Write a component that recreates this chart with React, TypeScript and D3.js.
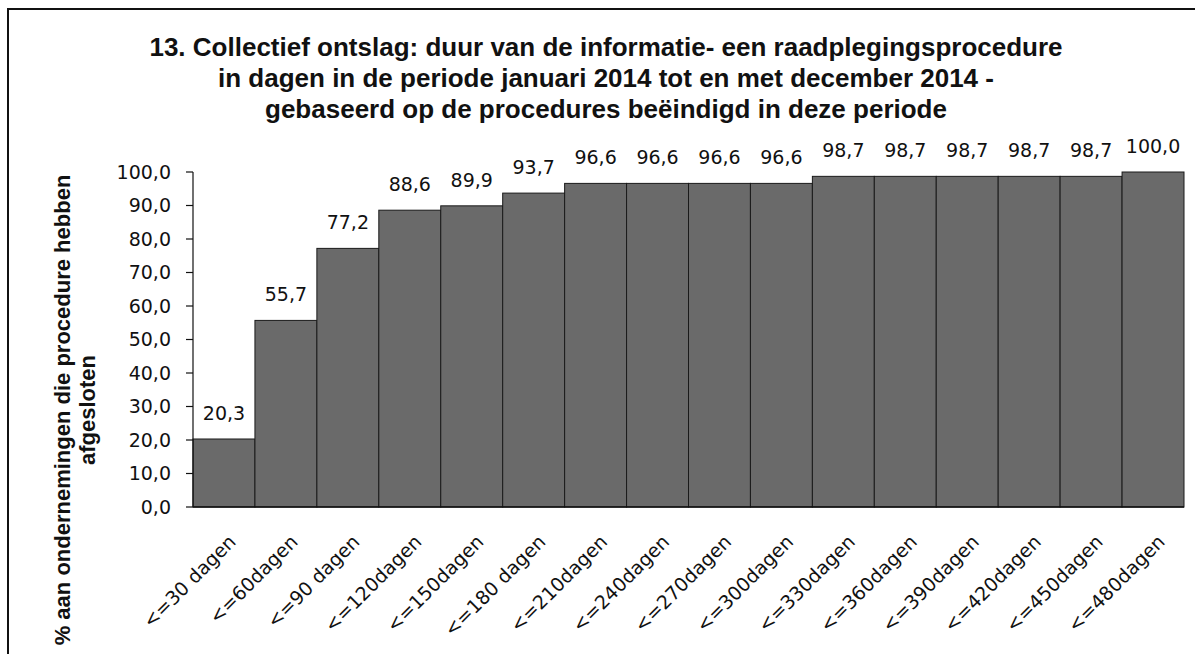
import * as d3 from "d3";

const categories = [
  "<=30 dagen", "<=60dagen", "<=90 dagen", "<=120dagen", "<=150dagen", "<=180 dagen",
  "<=210dagen", "<=240dagen", "<=270dagen", "<=300dagen", "<=330dagen", "<=360dagen",
  "<=390dagen", "<=420dagen", "<=450dagen", "<=480dagen",
];
const values = [20.3, 55.7, 77.2, 88.6, 89.9, 93.7, 96.6, 96.6, 96.6, 96.6, 98.7, 98.7, 98.7, 98.7, 98.7, 100.0];
const yTicks = [0, 10, 20, 30, 40, 50, 60, 70, 80, 90, 100];
const titleLines = [
  "13. Collectief ontslag: duur van de informatie- een raadplegingsprocedure",
  "in dagen in de periode januari 2014 tot en met december 2014 -",
  "gebaseerd op de procedures beëindigd in deze periode",
];
const yTitleLines = ["% aan ondernemingen die procedure hebben", "afgesloten"];

const W = 1195;
const H = 654;
const plot = { left: 193, right: 1184, top: 172, bottom: 507 };
const fmt = (v: number) => v.toFixed(1).replace(".", ",");

export default function App() {
  const x = d3.scaleBand().domain(categories).range([plot.left, plot.right]).padding(0);
  const y = d3.scaleLinear().domain([0, 100]).range([plot.bottom, plot.top]);
  const labelFont = "'DejaVu Sans', sans-serif";
  const boldFont = "'Liberation Sans', Arial, sans-serif";

  return (
    <svg width={W} height={H} style={{ position: "absolute", left: 0, top: 0, background: "#fff" }}>
      {/* outer frame: only left and top edges fall inside the picture */}
      <path d={`M8,${H}V9H${W}`} fill="none" stroke="#111" strokeWidth={2} />

      {titleLines.map((t, i) => (
        <text key={i} x={606} y={56 + i * 31} textAnchor="middle" fontFamily={boldFont}
          fontWeight="bold" fontSize={26} fill="#111">{t}</text>
      ))}

      <g transform="translate(0,410) rotate(-90)">
        {yTitleLines.map((t, i) => (
          <text key={i} x={0} y={70 + i * 25} textAnchor="middle" fontFamily={boldFont}
            fontWeight="bold" fontSize={22} fill="#111">{t}</text>
        ))}
      </g>

      {categories.map((c, i) => (
        <rect key={c} x={x(c)} y={y(values[i])} width={x.bandwidth()} height={y(0) - y(values[i])}
          fill="#6a6a6a" stroke="#1a1a1a" strokeWidth={1} />
      ))}

      {categories.map((c, i) => (
        <text key={c} x={(x(c) as number) + x.bandwidth() / 2} y={y(values[i]) - 19}
          textAnchor="middle" fontFamily={labelFont} fontSize={19} fill="#111">{fmt(values[i])}</text>
      ))}

      {/* y axis */}
      <line x1={plot.left} x2={plot.left} y1={plot.top} y2={plot.bottom} stroke="#111" strokeWidth={1.2} />
      {yTicks.map((t) => (
        <g key={t} transform={`translate(0,${y(t)})`}>
          <line x1={plot.left - 7} x2={plot.left} stroke="#111" strokeWidth={1.2} />
          <text x={plot.left - 22} dy="0.36em" textAnchor="end" fontFamily={labelFont}
            fontSize={19} fill="#111">{fmt(t)}</text>
        </g>
      ))}

      {/* x axis */}
      <line x1={plot.left} x2={plot.right} y1={plot.bottom} y2={plot.bottom} stroke="#111" strokeWidth={1.5} />
      {categories.map((c) => {
        const cx = (x(c) as number) + x.bandwidth() / 2 + 13;
        return (
          <text key={c} transform={`translate(${cx},543) rotate(-45)`} textAnchor="end"
            fontFamily={labelFont} fontSize={19} fill="#111">{c}</text>
        );
      })}
    </svg>
  );
}
